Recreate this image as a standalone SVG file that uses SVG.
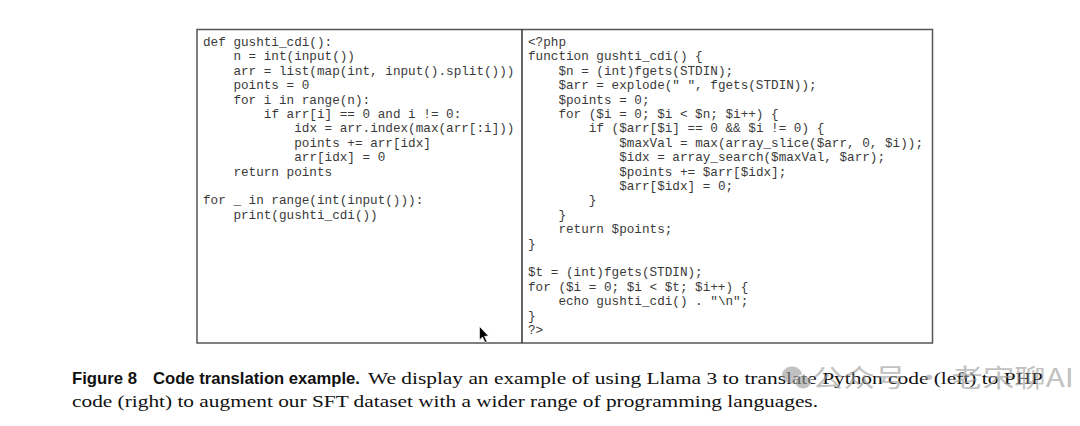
<svg xmlns="http://www.w3.org/2000/svg" width="1080" height="426" viewBox="0 0 1080 426">
<style>
.code{font-family:"Liberation Mono","Courier New",monospace;font-size:12.67px;fill:#3a3a3a}
.cap{font-family:"Liberation Serif","Times New Roman",serif;font-size:17.5px;fill:#111}
.capb{font-family:"Liberation Sans",Arial,sans-serif;font-size:17px;font-weight:bold;fill:#111}
.wm{font-family:"Noto Sans CJK SC","Noto Sans",sans-serif;font-size:25px;fill:#999}
</style>
<rect width="1080" height="426" fill="#ffffff"/>
<g id="frame">
<rect x="197" y="29.5" width="735.5" height="313.5" fill="none" stroke="#555" stroke-width="1.5"/>
<line x1="522" y1="29.5" x2="522" y2="343" stroke="#333" stroke-width="1.5"/>
</g>
<g id="python-code" class="code">
<text x="203" y="46">def gushti_cdi():</text>
<text x="233.4" y="60.4">n = int(input())</text>
<text x="233.4" y="74.8">arr = list(map(int, input().split()))</text>
<text x="233.4" y="89.2">points = 0</text>
<text x="233.4" y="103.6">for i in range(n):</text>
<text x="263.8" y="118">if arr[i] == 0 and i != 0:</text>
<text x="294.2" y="132.4">idx = arr.index(max(arr[:i]))</text>
<text x="294.2" y="146.8">points += arr[idx]</text>
<text x="294.2" y="161.2">arr[idx] = 0</text>
<text x="233.4" y="175.6">return points</text>
<text x="203" y="204.4">for _ in range(int(input())):</text>
<text x="233.4" y="218.8">print(gushti_cdi())</text>
</g>
<g id="php-code" class="code">
<text x="528" y="46">&lt;?php</text>
<text x="528" y="60.4">function gushti_cdi() {</text>
<text x="558.4" y="74.8">$n = (int)fgets(STDIN);</text>
<text x="558.4" y="89.2">$arr = explode(" ", fgets(STDIN));</text>
<text x="558.4" y="103.6">$points = 0;</text>
<text x="558.4" y="118">for ($i = 0; $i &lt; $n; $i++) {</text>
<text x="588.8" y="132.4">if ($arr[$i] == 0 &amp;&amp; $i != 0) {</text>
<text x="619.2" y="146.8">$maxVal = max(array_slice($arr, 0, $i));</text>
<text x="619.2" y="161.2">$idx = array_search($maxVal, $arr);</text>
<text x="619.2" y="175.6">$points += $arr[$idx];</text>
<text x="619.2" y="190">$arr[$idx] = 0;</text>
<text x="588.8" y="204.4">}</text>
<text x="558.4" y="218.8">}</text>
<text x="558.4" y="233.2">return $points;</text>
<text x="528" y="247.6">}</text>
<text x="528" y="276.4">$t = (int)fgets(STDIN);</text>
<text x="528" y="290.8">for ($i = 0; $i &lt; $t; $i++) {</text>
<text x="558.4" y="305.2">echo gushti_cdi() . "\n";</text>
<text x="528" y="319.6">}</text>
<text x="528" y="334">?&gt;</text>
</g>
<g id="cursor">
<polygon points="479.5,326.5 479.5,340 482.5,337 485,342.5 487,341.5 484.5,336.3 488.5,336" fill="#000" stroke="#fff" stroke-width="0.6"/>
</g>
<g id="caption">
<text class="capb" x="72" y="384" textLength="65" lengthAdjust="spacingAndGlyphs">Figure 8</text>
<text class="capb" x="153" y="384" textLength="207" lengthAdjust="spacingAndGlyphs">Code translation example.</text>
<text class="cap" x="368" y="384" textLength="675" lengthAdjust="spacingAndGlyphs">We display an example of using Llama 3 to translate Python code (left) to PHP</text>
<text class="cap" x="72" y="407" textLength="746" lengthAdjust="spacingAndGlyphs">code (right) to augment our SFT dataset with a wider range of programming languages.</text>
</g>
<g id="watermark" opacity="0.6">
<ellipse cx="792" cy="375" rx="10" ry="8.5" fill="#999"/>
<ellipse cx="803" cy="382" rx="8" ry="7" fill="#999" stroke="#fff" stroke-width="1"/>
<text class="wm" x="812" y="387" textLength="262" lengthAdjust="spacingAndGlyphs">公众号 · 老宋聊AI</text>
</g>
</svg>
